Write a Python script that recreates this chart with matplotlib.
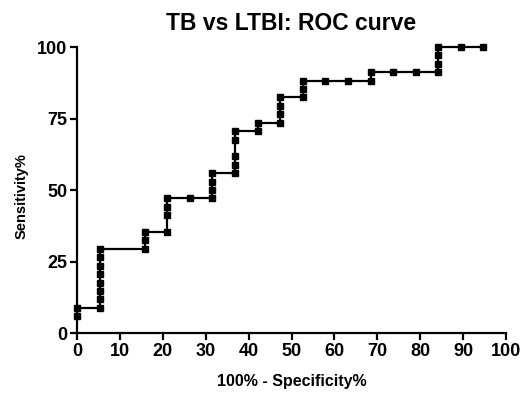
import matplotlib
matplotlib.use("Agg")
import matplotlib.pyplot as plt

plt.rcParams['font.family'] = ['Liberation Sans', 'DejaVu Sans']

fpr = [0, 0,
       5.26, 5.26, 5.26, 5.26, 5.26, 5.26, 5.26, 5.26,
       15.79, 15.79, 15.79,
       21.05, 21.05, 21.05, 21.05,
       26.32,
       31.58, 31.58, 31.58, 31.58,
       36.84, 36.84, 36.84, 36.84, 36.84,
       42.11, 42.11,
       47.37, 47.37, 47.37, 47.37,
       52.63, 52.63, 52.63,
       57.89, 63.16,
       68.42, 68.42,
       73.68, 78.95,
       84.21, 84.21, 84.21, 84.21,
       89.47, 94.74]
sens = [5.88, 8.82,
        8.82, 11.76, 14.71, 17.65, 20.59, 23.53, 26.47, 29.41,
        29.41, 32.35, 35.29,
        35.29, 41.18, 44.12, 47.06,
        47.06,
        47.06, 50.00, 52.94, 55.88,
        55.88, 58.82, 61.76, 67.65, 70.59,
        70.59, 73.53,
        73.53, 76.47, 79.41, 82.35,
        82.35, 85.29, 88.24,
        88.24, 88.24,
        88.24, 91.18,
        91.18, 91.18,
        91.18, 94.12, 97.06, 100.0,
        100.0, 100.0]

xticks = [0, 10, 20, 30, 40, 50, 60, 70, 80, 90, 100]
yticks = [0, 25, 50, 75, 100]

fig = plt.figure(figsize=(5.26, 3.95), dpi=100)
ax = fig.add_axes([77/526, 1 - 333/395, (506 - 77)/526, (333 - 47)/395])
ax.plot(fpr, sens, color='black', lw=1.6, marker='s', markersize=5,
        clip_on=False, zorder=3)
ax.set_xlim(0, 100)
ax.set_ylim(0, 100)
ax.set_xticks(xticks)
ax.set_yticks(yticks)
for s in ['top', 'right']:
    ax.spines[s].set_visible(False)
for s in ['left', 'bottom']:
    ax.spines[s].set_linewidth(1.6)
ax.tick_params(direction='out', length=5, width=1.6, labelsize=13, pad=2)
for lab in ax.get_xticklabels() + ax.get_yticklabels():
    lab.set_fontweight('bold')
ax.set_title('TB vs LTBI: ROC curve', fontsize=16.5, fontweight='bold', pad=12)
ax.set_xlabel('100% - Specificity%', fontsize=11.5, fontweight='bold')
ax.set_ylabel('Sensitivity%', fontsize=10.5, fontweight='bold')
ax.xaxis.set_label_coords(0.501, -0.143)
ax.yaxis.set_label_coords(-0.113, 0.479)

fig.savefig('out.png', dpi=100)
